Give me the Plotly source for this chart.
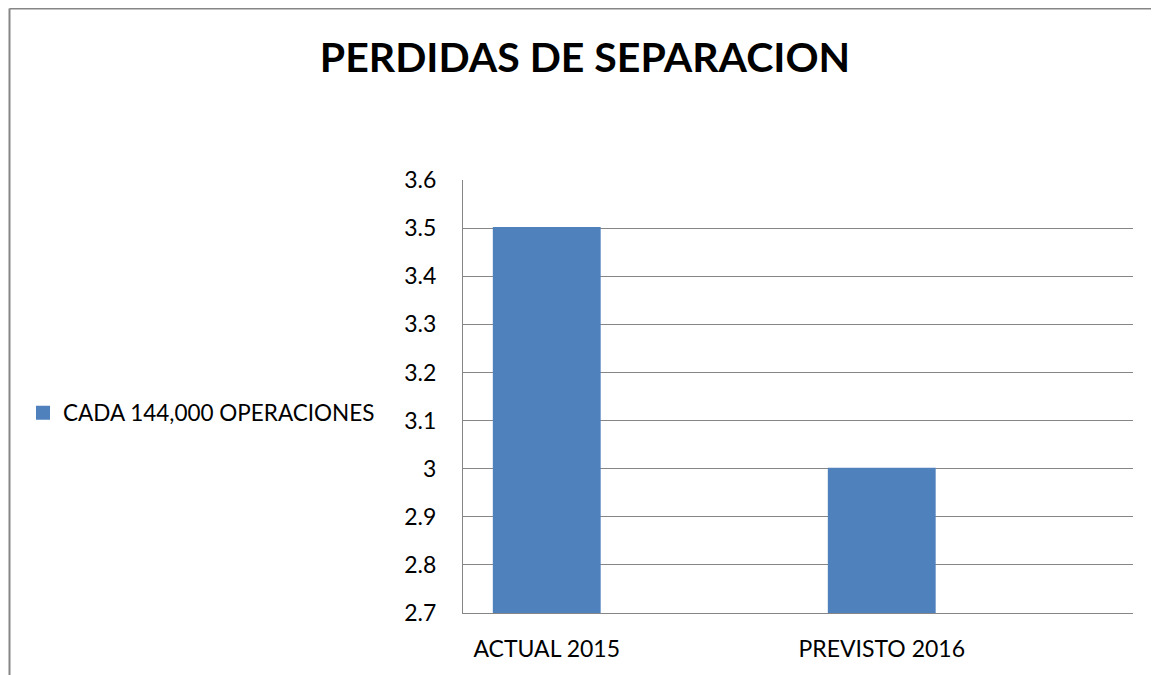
import plotly.graph_objects as go

# datos del grafico
categorias = ['ACTUAL 2015', 'PREVISTO 2016']
perdidas = [3.5, 3.0]
serie = 'CADA 144,000 OPERACIONES'
titulo = 'PERDIDAS DE SEPARACION'

# la pagina tiene 8px de margen en el body, todo va corrido 8px
OFF = 8
W, H = 1159 - OFF, 675 - OFF
L, R, T, B = 463 - OFF, 26, 180 - OFF, 62
pw, ph = W - L - R, H - T - B

def px_x(x):
    return (x - OFF - L) / pw

def px_y(y):
    return (H - B - (y - OFF)) / ph

# el borde del mismo color agranda el cuadrito de la leyenda
fig = go.Figure(data=[go.Bar(x=categorias, y=perdidas, name=serie,
                             marker_color='#4F81BD',
                             marker_line=dict(color='#4F81BD', width=2),
                             showlegend=True)])

fig.update_layout(
    width=W, height=H,
    margin=dict(l=L, r=R, t=T, b=B),
    paper_bgcolor='white', plot_bgcolor='white',
    font=dict(family='Lato', size=23, color='black'),
    title=dict(text='<b>' + titulo + '</b>', x=(585 - OFF) / W, xanchor='center',
               y=1 - (58 - OFF) / H, yanchor='middle',
               font=dict(family='Lato', size=41, color='black')),
    bargap=0.684,
    showlegend=True,
    legend=dict(x=px_x(23), y=px_y(413), xanchor='left', yanchor='middle',
                font=dict(size=22.5), itemsizing='constant'),
    xaxis=dict(range=[-0.25, 1.75], showgrid=False, showline=True,
               linecolor='#868686', ticks='', ticklabelstandoff=15),
    yaxis=dict(range=[2.7, 3.6], dtick=0.1, showgrid=True, gridcolor='#868686',
               gridwidth=1, showline=True, linecolor='#868686', ticks='',
               ticklabelstandoff=21, zeroline=False),
    shapes=[
        dict(type='line', xref='paper', yref='paper',
             x0=px_x(9.5), x1=px_x(9.5), y0=px_y(8.5), y1=px_y(700),
             line=dict(color='#868686', width=2)),
        dict(type='line', xref='paper', yref='paper',
             x0=px_x(9.5), x1=px_x(1170), y0=px_y(8.5), y1=px_y(8.5),
             line=dict(color='#868686', width=2)),
    ],
)

fig.write_html('out.html')
